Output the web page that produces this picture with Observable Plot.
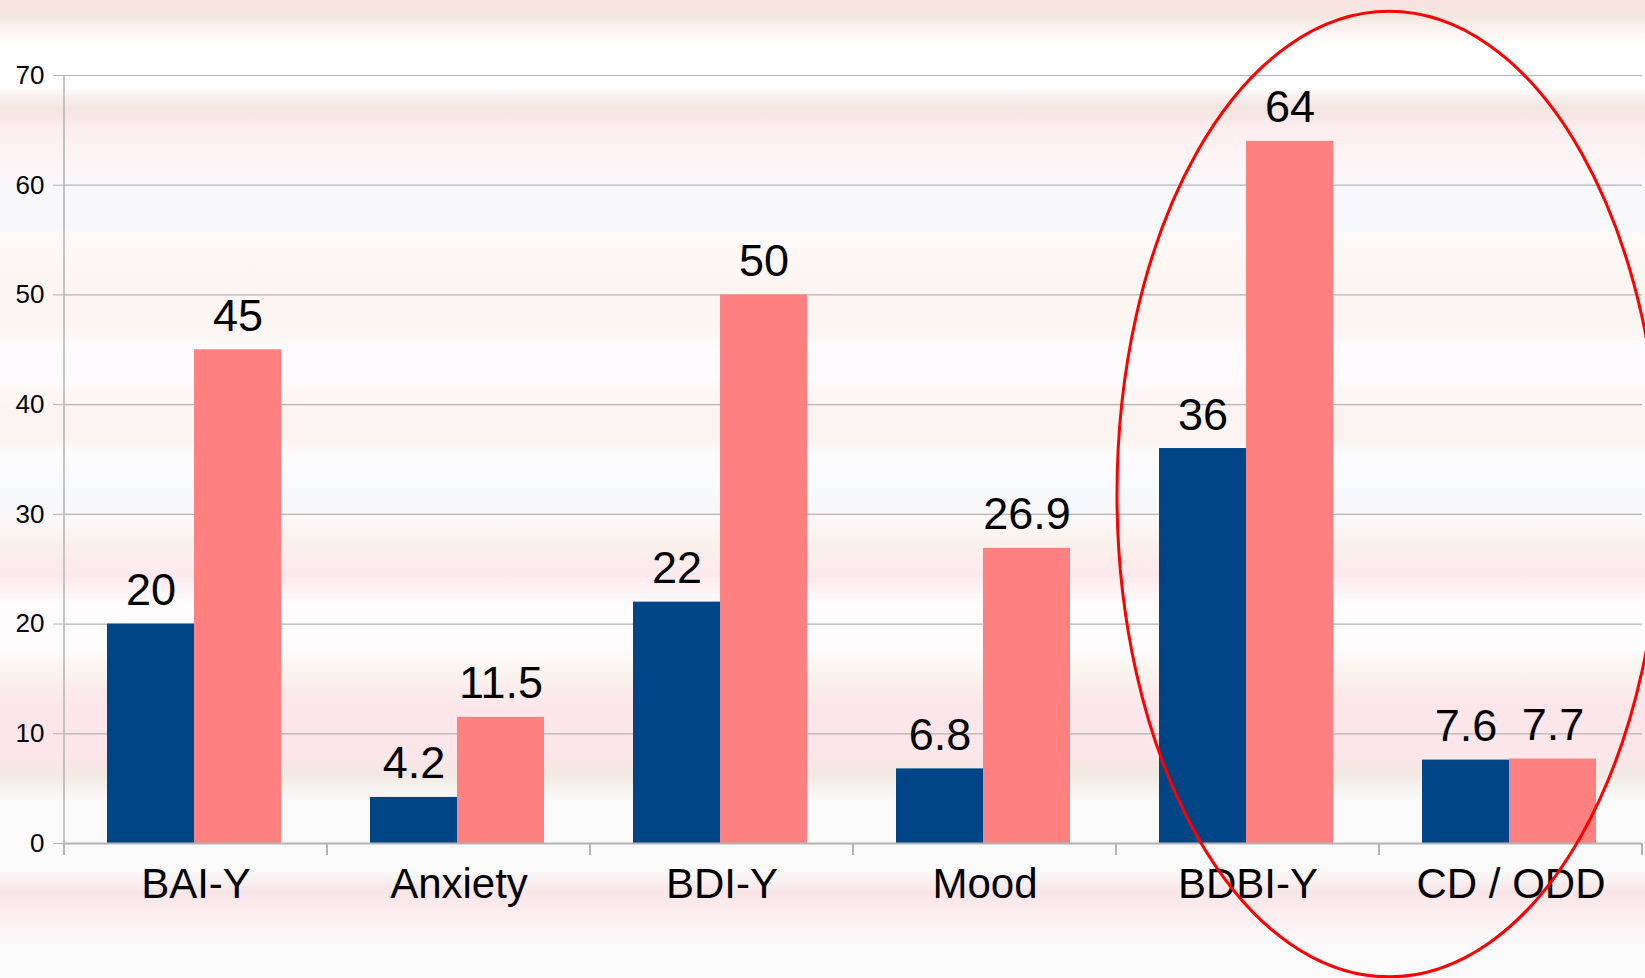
<!DOCTYPE html>
<html>
<head>
<meta charset="utf-8">
<script src="https://cdn.jsdelivr.net/npm/d3@7"></script>
<script src="https://cdn.jsdelivr.net/npm/@observablehq/plot@0.6"></script>
<style>
  html, body { margin: 0; padding: 0; }
  body {
    width: 1645px; height: 978px; overflow: hidden;
    background: linear-gradient(to bottom,
      #fbe2e3 0px, #f2e6de 16px, #fdf3f1 30px, #ffffff 45px, #ffffff 88px,
      #f8f0ee 96px, #f3e4e0 108px, #fdeef0 130px, #fdf5f5 160px, #f8f8fb 190px,
      #f8f8fb 228px, #fef9f6 242px, #fcf5f2 280px, #fcf5f2 325px, #fdfbfd 350px,
      #fdfbfd 378px, #fbf3ef 410px, #fbf3ef 438px, #fcfcfd 455px, #f7f8fb 500px,
      #fbf7f6 525px, #faf0ea 545px, #fde9ed 575px, #fefcfd 605px, #fefcfd 650px,
      #f9f5ef 668px, #fde6e9 705px, #fde6e9 755px, #f1e9e2 775px, #fafafa 800px,
      #fafafa 870px, #f9e5e6 892px, #fdf0f3 920px, #fafafa 945px, #fafafa 978px);
  }
  svg { display: block; }
</style>
</head>
<body>
<script>
const categories = ["BAI-Y", "Anxiety", "BDI-Y", "Mood", "BDBI-Y", "CD / ODD"];
const series = ["Series 1", "Series 2"];
const values1 = [20, 4.2, 22, 6.8, 36, 7.6];
const values2 = [45, 11.5, 50, 26.9, 64, 7.7];
const yTicks = [0, 10, 20, 30, 40, 50, 60, 70];

const data = [];
categories.forEach((c, i) => {
  data.push({cat: c, series: series[0], value: values1[i]});
  data.push({cat: c, series: series[1], value: values2[i]});
});

const font = "'Liberation Sans', Arial, sans-serif";
const axisGray = "#b3b3b3";

const chart = Plot.plot({
  width: 1645,
  height: 978,
  marginTop: 75,
  marginBottom: 135,
  marginLeft: 63,
  marginRight: 2,
  style: {background: "transparent", fontFamily: font, color: "#000", overflow: "visible"},
  fx: {domain: categories, padding: 0, label: null},
  x: {domain: series, paddingInner: 0, paddingOuter: 0.5, axis: null},
  y: {domain: [0, 70], label: null},
  color: {domain: series, range: ["#004586", "#ff8080"]},
  marks: [
    Plot.gridY({ticks: yTicks, stroke: axisGray, strokeOpacity: 1, strokeWidth: 1.2}),
    Plot.axisY({ticks: yTicks, tickSize: 11, tickPadding: 9, fontSize: 26, stroke: axisGray, label: null}),
    Plot.axisFx({anchor: "bottom", tickSize: 0, tickPadding: 25, fontSize: 42, label: null}),
    Plot.barY(data, {fx: "cat", x: "series", y: "value", fill: "series", dx: -2}),
    Plot.ruleY([0], {stroke: axisGray, strokeWidth: 2}),
    Plot.text(data, {fx: "cat", x: "series", y: "value", text: d => String(d.value),
      lineAnchor: "bottom", dx: -2, dy: -19, fontSize: 45, fill: "#000"})
  ]
});
document.body.appendChild(chart);

// Axis decorations and annotation ellipse, positioned through the plot's scales
const fx = chart.scale("fx");
const y = chart.scale("y");
const svg = d3.select(chart);
const y0 = y.apply(0);
const yTop = y.apply(70);
const g = svg.append("g");
const boundaries = categories.map(c => fx.apply(c)).concat([fx.apply(categories[categories.length - 1]) + fx.bandwidth]);
g.append("line")
  .attr("x1", boundaries[0]).attr("x2", boundaries[0])
  .attr("y1", yTop).attr("y2", y0 + 12)
  .attr("stroke", axisGray).attr("stroke-width", 1.5);
boundaries.forEach(bx => {
  g.append("line")
    .attr("x1", bx).attr("x2", bx)
    .attr("y1", y0).attr("y2", y0 + 12)
    .attr("stroke", axisGray).attr("stroke-width", 2);
});
// Red ellipse highlighting the last two groups
const cx = fx.apply("CD / ODD") + 10;
svg.append("ellipse")
  .attr("cx", cx)
  .attr("cy", y.apply(31.8))
  .attr("rx", 272)
  .attr("ry", y.apply(0) - y.apply(44))
  .attr("fill", "none")
  .attr("stroke", "#ff0000")
  .attr("stroke-width", 3);
</script>
</body>
</html>
